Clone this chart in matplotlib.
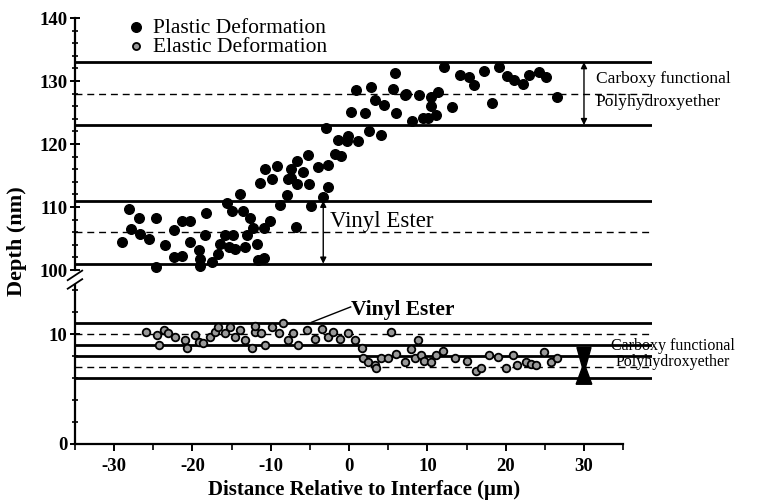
import matplotlib
matplotlib.use("Agg")
import matplotlib.pyplot as plt
from matplotlib.lines import Line2D
from matplotlib.ticker import MultipleLocator

plt.rcParams['font.family'] = ['Liberation Serif', 'DejaVu Serif']
plt.rcParams['axes.unicode_minus'] = False

# plastic deformation (upper scale, nm)
plastic_x = [-29.0, -28.1, -27.9, -26.8, -26.7, -25.5, -24.6, -24.6, -23.5, -22.4,
             -22.3, -21.4, -21.4, -20.3, -20.3, -19.2, -19.1, -19.0, -18.3, -18.4,
             -17.5, -16.7, -16.5, -15.6, -15.0, -15.8, -15.4, -14.6, -14.8, -13.9,
             -13.5, -13.3, -13.1, -12.7, -12.3, -11.8, -11.6, -10.9, -10.9, -10.1,
             -11.4, -10.7, -9.9, -9.2, -8.8, -7.9, -7.4, -6.7, -7.4, -6.6,
             -5.9, -5.2, -5.1, -4.8, -6.8, -4.0, -2.7, -2.7, -3.3, -2.9,
             -1.8, -1.0, -1.4, -0.1, 1.1, 0.3, 0.9, 2.0, 2.6, 2.8,
             3.3, 4.1, 4.5, 5.6, 5.9, 6.0, 7.1, 8.0, 8.9, 9.4,
             10.1, 10.4, 10.5, 11.1, 11.3, 12.1, 13.2, 14.2, 15.3, 16.0,
             17.2, 18.2, 19.1, 20.2, 21.1, 22.2, 23.0, 24.2, 25.1, 26.5,
             -7.8, -0.3, 7.3]
plastic_y = [104.5, 109.7, 106.5, 108.2, 105.7, 104.9, 108.2, 100.5, 104.0, 106.3,
             102.1, 107.8, 102.2, 107.8, 104.4, 103.2, 101.7, 100.7, 109.0, 105.6,
             101.3, 102.6, 104.2, 110.7, 109.3, 105.6, 103.7, 103.4, 105.6, 112.0,
             109.3, 103.7, 105.6, 108.2, 106.6, 104.2, 101.6, 101.9, 106.6, 107.7,
             113.8, 116.1, 114.4, 116.5, 110.3, 111.9, 116.1, 117.3, 114.6, 113.6,
             115.5, 118.3, 113.6, 110.1, 106.9, 116.4, 113.1, 116.6, 111.6, 122.5,
             118.4, 118.1, 120.6, 121.2, 120.4, 125.1, 128.6, 124.9, 122.0, 129.1,
             127.0, 121.4, 126.2, 128.8, 131.2, 124.9, 127.8, 123.7, 127.7, 124.1,
             124.1, 127.5, 126.0, 124.6, 128.3, 132.3, 125.9, 131.0, 130.7, 129.4,
             131.6, 126.5, 132.3, 130.8, 130.2, 129.6, 131.0, 131.4, 130.6, 127.4,
             114.4, 120.5, 128.0]

# elastic deformation (lower scale, nm)
elastic_x = [-26.0, -24.5, -24.3, -23.7, -23.1, -22.2, -20.9, -20.7, -19.7, -19.2,
             -18.6, -17.7, -17.1, -16.7, -15.8, -15.2, -14.6, -13.9, -13.3, -12.4,
             -12.0, -12.0, -11.2, -10.7, -9.9, -9.0, -8.4, -7.8, -7.1, -6.5,
             -5.4, -4.4, -3.5, -2.7, -2.0, -1.2, -0.1, 0.7, 1.6, 1.8,
             2.4, 3.3, 3.5, 4.1, 5.0, 5.4, 6.0, 7.1, 7.9, 8.4,
             9.2, 8.8, 9.6, 10.5, 11.1, 12.0, 13.5, 15.0, 16.2, 16.9,
             17.9, 19.0, 20.0, 20.9, 21.5, 22.6, 23.2, 23.9, 24.9, 25.8,
             26.6]
elastic_y = [10.2, 9.9, 9.0, 10.4, 10.1, 9.8, 9.5, 8.8, 9.9, 9.3,
             9.2, 9.8, 10.2, 10.7, 10.1, 10.7, 9.8, 10.4, 9.5, 8.8,
             10.2, 10.8, 10.1, 9.0, 10.7, 10.1, 11.0, 9.5, 10.1, 9.0,
             10.4, 9.6, 10.5, 9.8, 10.2, 9.6, 10.1, 9.5, 8.8, 7.8,
             7.5, 7.2, 6.9, 7.8, 7.8, 10.2, 8.2, 7.5, 8.7, 7.8,
             8.1, 9.5, 7.6, 7.5, 8.1, 8.5, 7.8, 7.6, 6.7, 6.9,
             8.1, 7.9, 6.9, 8.1, 7.2, 7.5, 7.3, 7.2, 8.4, 7.5,
             7.8]

# layer boundaries (solid) and centres (dashed)
upper_solid = [133, 123, 111, 101]
upper_dashed = [128, 106]
lower_solid = [11, 9, 8, 6]
lower_dashed = [10, 7]

fig = plt.figure(figsize=(7.61, 5.03), dpi=100)
ax1 = fig.add_axes([0.0986, 0.4632, 0.7583, 0.5010])
ax2 = fig.add_axes([0.0986, 0.1173, 0.7583, 0.3161])

xlim = (-35, 38.7)
for ax in (ax1, ax2):
    ax.set_xlim(*xlim)
    ax.spines['top'].set_visible(False)
    ax.spines['right'].set_visible(False)
    ax.spines['left'].set_linewidth(1.6)
    ax.tick_params(axis='y', which='major', direction='inout', length=7, width=1.4,
                   labelsize=13.5, pad=2)
    ax.tick_params(axis='y', which='minor', direction='inout', length=4, width=1.2)

# upper panel
ax1.spines['bottom'].set_visible(False)
ax1.set_xticks([])
ax1.set_ylim(100, 140)
ax1.yaxis.set_major_locator(MultipleLocator(10))
ax1.yaxis.set_minor_locator(MultipleLocator(2))
for y in upper_solid:
    ax1.axhline(y, color='black', lw=2.0, zorder=1)
for y in upper_dashed:
    ax1.axhline(y, color='black', lw=1.0, ls=(0, (5, 3.5)), zorder=1)
ax1.scatter(plastic_x, plastic_y, s=48, color='black', zorder=3,
            label='Plastic Deformation', clip_on=False)
ax1.scatter([], [], s=26, facecolor='0.6', edgecolor='black', linewidths=1.3,
            label='Elastic Deformation')

ax1.annotate('', xy=(30, 133), xytext=(30, 123),
             arrowprops=dict(arrowstyle='<|-|>', color='black', lw=1.0,
                             mutation_scale=9, shrinkA=0, shrinkB=0))
ax1.annotate('', xy=(-3.3, 111), xytext=(-3.3, 101),
             arrowprops=dict(arrowstyle='<|-|>', color='black', lw=1.0,
                             mutation_scale=9, shrinkA=0, shrinkB=0))
ax1.text(31.5, 130.3, 'Carboxy functional', fontsize=12.5, va='center', ha='left')
ax1.text(31.5, 126.6, 'Polyhydroxyether', fontsize=12.5, va='center', ha='left')
ax1.text(-2.4, 107.7, 'Vinyl Ester', fontsize=16.5, va='center', ha='left')

leg = ax1.legend(loc='upper left', bbox_to_anchor=(0.077, 1.035), frameon=False,
                 fontsize=15.5, handlelength=0.7, handletextpad=0.45,
                 labelspacing=-0.05, borderaxespad=0, scatterpoints=1)

# lower panel
ax2.set_ylim(0, 14.5)
ax2.set_yticks([0, 10])
ax2.yaxis.set_minor_locator(MultipleLocator(2))
ax2.spines['bottom'].set_bounds(-35, 35)
ax2.spines['bottom'].set_linewidth(1.6)
ax2.set_xticks([-30, -20, -10, 0, 10, 20, 30])
ax2.xaxis.set_minor_locator(MultipleLocator(5))
ax2.tick_params(axis='x', which='major', direction='out', length=5, width=1.4,
                labelsize=13.5, pad=5)
ax2.tick_params(axis='x', which='minor', direction='out', length=4, width=1.2)
for ax in (ax1, ax2):
    for lab in ax.get_xticklabels() + ax.get_yticklabels():
        lab.set_fontweight('bold')

for y in lower_solid:
    ax2.axhline(y, color='black', lw=2.0, zorder=1)
for y in lower_dashed:
    ax2.axhline(y, color='black', lw=1.0, ls=(0, (5, 3.5)), zorder=1)
ax2.scatter(elastic_x, elastic_y, s=30, facecolor='0.6', edgecolor='black',
            linewidths=1.3, zorder=3)

# hourglass marker for the lower layer
ax2.fill([29.1, 30.9, 30.2, 29.8], [8.8, 8.8, 7.0, 7.0], color='black', zorder=4)
ax2.fill([29.0, 31.0, 30.2, 29.8], [5.45, 5.45, 7.0, 7.0], color='black', zorder=4)
ax2.text(33.4, 8.95, 'Carboxy functional', fontsize=11.5, va='center', ha='left', zorder=0)
ax2.text(34.1, 7.45, 'Polyhydroxyether', fontsize=11.5, va='center', ha='left', zorder=0)
ax2.plot([-4.8, 0.2], [11.1, 12.5], color='black', lw=1.0)
ax2.text(0.2, 12.2, 'Vinyl Ester', fontsize=15.5, fontweight='bold', va='center', ha='left')

ax2.set_xlabel('Distance Relative to Interface (μm)', fontsize=15, fontweight='bold',
               labelpad=4)
fig.text(0.022, 0.52, 'Depth (nm)', rotation=90, fontsize=16, fontweight='bold',
         va='center', ha='center')

# axis break marks
for dy in (0.0, 0.017):
    fig.add_artist(Line2D([0.089, 0.108], [0.443 - dy, 0.462 - dy], color='black',
                          lw=1.3, transform=fig.transFigure))

fig.savefig('out.png', dpi=100)
